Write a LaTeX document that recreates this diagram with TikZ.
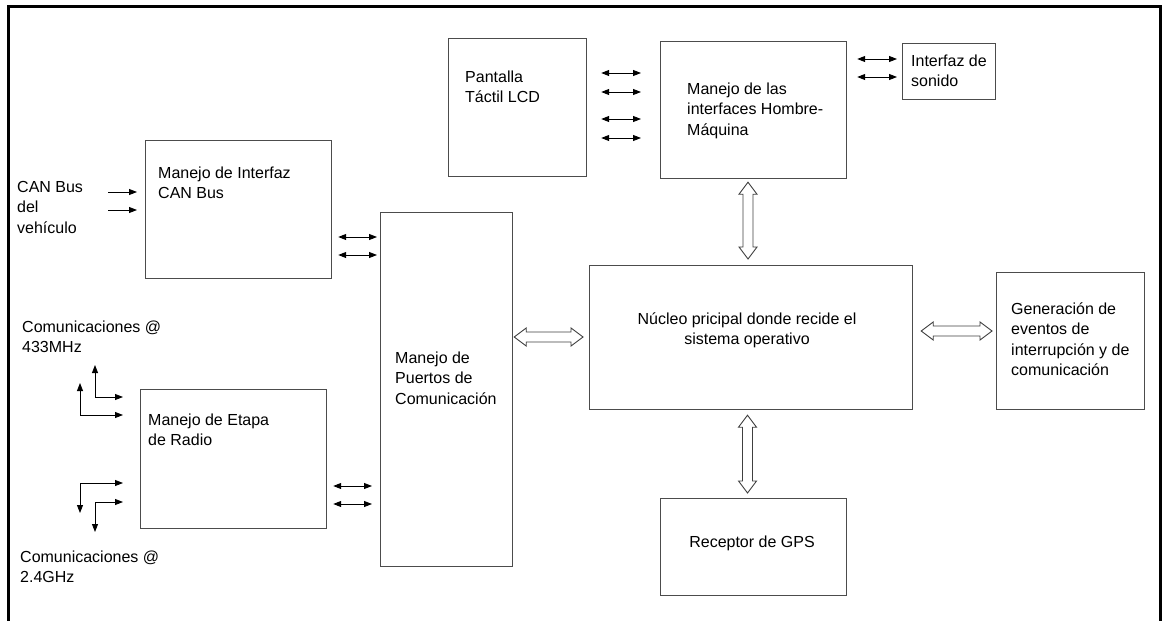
\documentclass[tikz,border=0pt]{standalone}
\usepackage{fontspec}
\setmainfont{Liberation Sans}
\usetikzlibrary{arrows.meta,calc}
\begin{document}
\begin{tikzpicture}[x=1pt,y=-1pt,
  box/.style={draw=black!70, line width=1.2pt, rectangle, inner sep=0pt, anchor=north west},
  lbl/.style={inner sep=0pt, anchor=north west, align=left, font=\fontsize{16}{20.5}\selectfont},
  clbl/.style={lbl, anchor=north, align=center},
  tip/.tip={Triangle[length=8pt,width=6pt]},
  wire/.style={line width=0.9pt, black, tip-tip},
  feed/.style={line width=0.9pt, black, -tip},
  % hollow double-headed bus arrow: head 12pt long, 18pt wide, shaft 10pt wide
  bus/.style={draw=black!75, line width=0.9pt, fill=white, line join=miter,
    to path={
      -- ($(\tikztostart)!12pt!(\tikztotarget)!9pt!90:(\tikztostart)$)
      -- ($(\tikztostart)!12pt!(\tikztotarget)!5pt!90:(\tikztostart)$)
      -- ($(\tikztotarget)!12pt!(\tikztostart)!5pt!-90:(\tikztotarget)$)
      -- ($(\tikztotarget)!12pt!(\tikztostart)!9pt!-90:(\tikztotarget)$)
      -- (\tikztotarget)
      -- ($(\tikztotarget)!12pt!(\tikztostart)!9pt!90:(\tikztotarget)$)
      -- ($(\tikztotarget)!12pt!(\tikztostart)!5pt!90:(\tikztotarget)$)
      -- ($(\tikztostart)!12pt!(\tikztotarget)!5pt!-90:(\tikztostart)$)
      -- ($(\tikztostart)!12pt!(\tikztotarget)!9pt!-90:(\tikztostart)$)
      -- cycle}}
]
\useasboundingbox (0,0) rectangle (1163,621);

% outer frame
\draw[line width=3pt] (8.5,621) -- (8.5,6) -- (1160,6) -- (1160,621);

% blocks
\node[box, minimum width=186pt, minimum height=138pt] (can)   at (145,140) {};
\node[box, minimum width=138pt, minimum height=138pt] (lcd)   at (448,38)  {};
\node[box, minimum width=186pt, minimum height=137pt] (hmi)   at (660,41)  {};
\node[box, minimum width=93pt,  minimum height=56pt]  (snd)   at (902,43)  {};
\node[box, minimum width=132pt, minimum height=354pt] (ports) at (380,212) {};
\node[box, minimum width=323pt, minimum height=144pt] (core)  at (589,265) {};
\node[box, minimum width=148pt, minimum height=137pt] (gen)   at (996,272) {};
\node[box, minimum width=186pt, minimum height=97pt]  (gps)   at (660,498) {};
\node[box, minimum width=186pt, minimum height=139pt] (radio) at (140,389) {};

% block texts
\node[lbl] (tcan)   at (158,163.6)  {\strut Manejo de Interfaz\\CAN Bus};
\node[lbl] (tcanin) at (17,177.6)   {\strut CAN Bus\\del\\vehículo};
\node[lbl] (tlcd)   at (465,67.6)   {\strut Pantalla\\Táctil LCD};
\node[lbl] (thmi)   at (687,79.6)   {\strut Manejo de las\\interfaces Hombre-\\Máquina};
\node[lbl] (tsnd)   at (911,51.6)   {\strut Interfaz de\\sonido};
\node[lbl] (tports) at (395,348.6)  {\strut Manejo de\\Puertos de\\Comunicación};
\node[clbl] (tcore) at (747,309.6)  {\strut Núcleo pricipal donde recide el\\sistema operativo};
\node[lbl] (tgen)   at (1011,299.6) {\strut Generación de\\eventos de\\interrupción y de\\comunicación};
\node[clbl] (tgps)  at (752,532.6)  {\strut Receptor de GPS};
\node[lbl] (tradio) at (148,410.6)  {\strut Manejo de Etapa\\de Radio};
\node[lbl] (t433)   at (22,317.6)   {\strut Comunicaciones @\\433MHz};
\node[lbl] (t24)    at (20,547.6)   {\strut Comunicaciones @\\2.4GHz};

% free ends of the external lines
\coordinate (canin1) at (108,192);
\coordinate (canin2) at (108,210);
\coordinate (ant1) at (95,365);
\coordinate (ant2) at (80,383);
\coordinate (ant3) at (80,513);
\coordinate (ant4) at (95,532);

% CAN bus inputs
\draw[feed, shorten >=8pt] (canin1) -- (can.west |- canin1);
\draw[feed, shorten >=8pt] (canin2) -- (can.west |- canin2);

% radio antennas
\draw[wire, shorten >=17pt] (ant1) |- (radio.west |- 0,397);
\draw[wire, shorten >=17pt] (ant2) |- (radio.west |- 0,415);
\draw[wire, shorten >=17pt] (ant3) |- (radio.west |- 0,483);
\draw[wire, shorten >=17pt] (ant4) |- (radio.west |- 0,502);

% CAN <-> ports
\draw[wire, shorten <=6pt, shorten >=3pt] (can.east |- 0,237) -- (ports.west |- 0,237);
\draw[wire, shorten <=6pt, shorten >=3pt] (can.east |- 0,255) -- (ports.west |- 0,255);

% radio <-> ports
\draw[wire, shorten <=6pt, shorten >=8pt] (radio.east |- 0,486) -- (ports.west |- 0,486);
\draw[wire, shorten <=6pt, shorten >=8pt] (radio.east |- 0,504) -- (ports.west |- 0,504);

% LCD <-> HMI
\foreach \yy in {73,92,119,138}
  \draw[wire, shorten <=14pt, shorten >=19pt] (lcd.east |- 0,\yy) -- (hmi.west |- 0,\yy);

% HMI <-> sound
\draw[wire, shorten <=10pt, shorten >=5pt] (hmi.east |- 0,59) -- (snd.west |- 0,59);
\draw[wire, shorten <=10pt, shorten >=5pt] (hmi.east |- 0,77) -- (snd.west |- 0,77);

% wide buses around the core (ends kept a few points clear of the blocks)
\coordinate (b1s) at ($(hmi.south -| 748,0)+(0,3)$);
\coordinate (b1t) at ($(core.north -| 748,0)+(0,-6)$);
\coordinate (b2s) at ($(core.south -| 747.5,0)+(0,5)$);
\coordinate (b2t) at ($(gps.north -| 747.5,0)+(0,-5)$);
\coordinate (b3s) at ($(ports.east |- 0,337)+(1,0)$);
\coordinate (b3t) at ($(core.west |- 0,337)+(-6,0)$);
\coordinate (b4s) at ($(core.east |- 0,331)+(8,0)$);
\coordinate (b4t) at ($(gen.west |- 0,331)+(-4,0)$);
\draw[bus] (b1s) to (b1t);
\draw[bus] (b2s) to (b2t);
\draw[bus] (b3s) to (b3t);
\draw[bus] (b4s) to (b4t);

\end{tikzpicture}
\end{document}
